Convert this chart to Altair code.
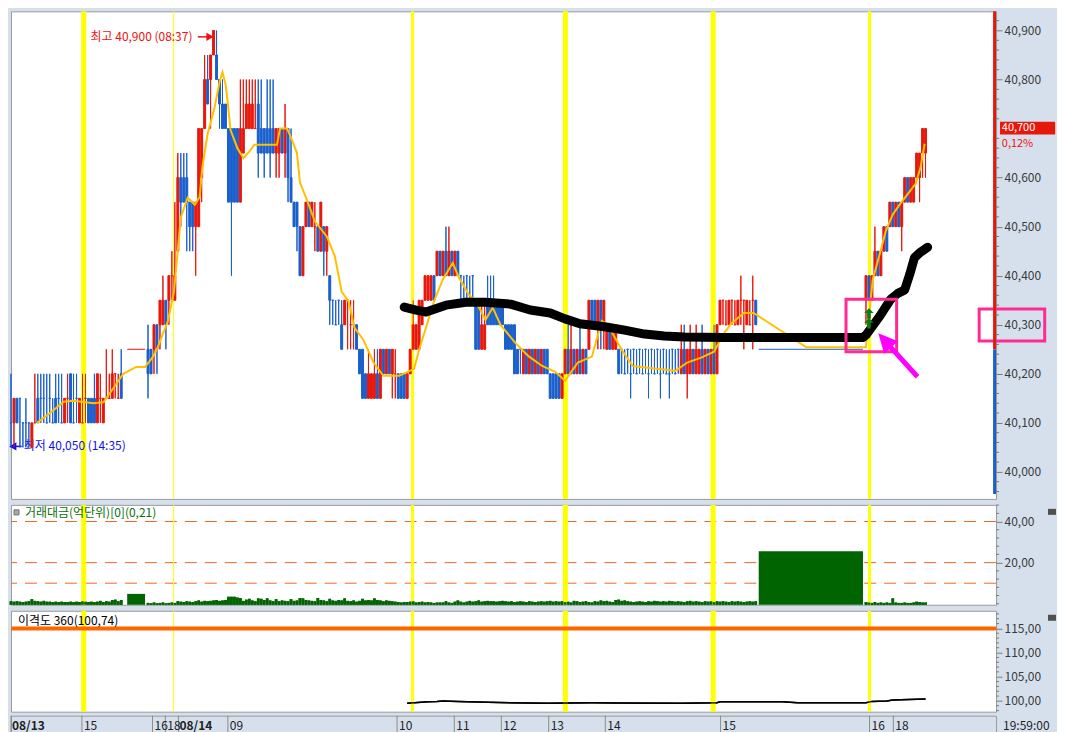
import altair as alt
import pandas as pd

FONT = "Noto Sans CJK KR"
BASE, STEP = 40000, 50          # price = BASE + STEP * tick
T_MAX = 330.67                  # bar slots across the plot
W = 986
H_MAIN, H_VOL, H_DISP, H_AX = 488, 100, 101, 19
UP, DN = "#e8170b", "#1a5fcc"
BG = "#d6e0ec"
VOL_UNIT = 2.0                  # volume entries below are read in half-억 steps

# ---------------- data ----------------
seg_starts = [0, 46, 287]
# (open, high, low, close) in ticks, volume (half-억 units)
seg_0813 = [
    (2,4,1,2,0.6), (2,3,1,3,0.5), (3,3,2,2,0.6), (3,3,1,3,0.5), (2,2,1,2,0.4),
    (2,3,1,2,0.5), (2,2,1,2,0.6), (1,2,1,2,1.1), (2,4,2,2,0.7), (3,4,2,2,0.6),
    (3,4,2,3,0.5), (3,4,2,3,0.7), (2,4,2,2,0.5), (3,4,2,3,0.5), (2,3,2,2,0.4),
    (3,4,2,2,0.5), (3,4,2,3,0.4), (2,4,2,2,0.5), (2,3,2,3,0.4), (3,4,2,3,0.4),
    (4,4,2,2,0.5), (2,4,2,2,0.4), (3,4,2,3,0.5), (2,3,2,3,0.4), (2,4,2,2,0.6),
    (3,4,2,3,0.5), (3,3,2,2,0.4), (3,3,2,2,0.5), (3,4,2,2,0.4), (2,4,2,4,0.5),
    (3,4,2,3,0.7), (2,3,2,3,0.4), (3,5,3,3,0.6), (3,4,3,3,0.5), (3,5,3,4,0.9),
    (4,4,3,4,1.0), (3,4,3,3,0.6), (4,5,3,3,0.9),
]
seg_0814 = [
    (5,6,3,4,0.2), (5,5,4,4,0.1), (5,6,4,6,0.3), (6,6,4,5,0.1), (6,7,5,7,0.2),
    (6,8,6,7,0.3), (7,7,5,6,0.1), (7,8,6,8,0.2), (8,9,7,8,0.3), (7,11,7,8,0.2),
    (9,13,9,12,0.6), (12,13,10,11,0.5), (12,13,11,11,0.4), (12,13,9,11,0.6), (11,11,9,10,0.5),
    (11,11,9,10,0.4), (10,11,8,11,0.6), (10,14,10,14,0.8), (12,14,11,14,0.5), (14,17,14,16,0.7),
    (16,17,15,15,0.6), (16,17,14,17,0.7), (17,18,17,18,0.8), (17,18,16,16,0.9), (16,16,14,15,0.7),
    (15,16,14,14,0.8), (15,15,14,14,0.9), (14,14,11,11,1.7), (14,14,8,11,1.7), (14,14,11,11,1.7),
    (14,14,11,11,1.5), (11,16,11,14,1.4), (13,16,13,14,0.7), (14,16,14,15,1.0), (14,16,14,15,1.2),
    (14,16,14,15,0.8), (14,16,14,14,0.6), (15,16,12,13,1.3), (14,16,13,13,1.2), (14,14,12,13,0.9),
    (14,16,13,13,1.3), (14,16,12,13,0.8), (14,16,13,13,0.6), (13,14,12,14,1.1), (13,14,12,14,0.6),
    (14,14,13,13,0.8), (13,15,12,14,0.7), (14,14,11,12,0.6), (12,14,11,11,1.1), (11,11,10,10,0.7),
    (11,11,9,10,0.8), (10,10,8,8,1.4), (8,10,8,10,1.3), (10,11,10,11,0.9), (11,11,10,10,0.8),
    (10,11,10,11,0.7), (10,11,9,10,0.6), (10,10,9,9,1.4), (9,11,9,11,0.9), (10,10,8,9,0.8),
    (9,10,8,10,0.6), (8,8,6,7,1.2), (7,7,6,7,0.8), (6,7,6,6,0.7), (7,7,6,7,0.9),
    (6,7,5,5,0.8), (6,7,6,7,1.3), (7,7,5,7,0.7), (6,7,5,6,0.6), (6,7,5,6,0.8),
    (6,6,5,5,0.5), (5,5,4,4,0.7), (5,5,3,3,1.2), (4,4,3,3,0.8), (3,5,3,4,0.9),
    (3,4,3,4,0.8), (3,5,3,4,1.3), (4,5,3,3,0.9), (3,5,3,5,0.8), (5,5,4,4,0.6),
    (4,5,4,5,0.8), (5,5,4,4,0.7), (4,5,3,5,0.6), (4,5,3,4,0.5), (4,4,3,3,0.4),
    (4,4,3,3,0.3), (4,4,3,3,0.4), (3,4,3,4,0.4), (4,5,4,5,0.5), (5,7,5,6,0.6),
    (5,6,5,6,0.3), (5,7,5,7,0.4), (6,7,6,7,0.5), (7,8,7,8,0.3), (7,8,7,8,0.4),
    (7,8,7,8,0.3), (8,8,7,7,0.2), (8,9,8,9,0.3), (9,9,8,8,0.3), (8,9,8,9,0.3),
    (9,10,8,8,0.6), (8,10,8,9,0.3), (9,9,8,8,0.2), (8,9,8,9,0.5), (9,9,8,8,0.8),
    (8,8,7,8,0.5), (7,8,7,7,0.3), (8,8,7,8,0.5), (7,8,7,7,0.7), (8,8,7,8,0.5),
    (7,7,5,5,0.6), (7,7,5,5,0.8), (5,7,5,6,0.5), (5,7,5,6,0.6), (7,8,6,6,0.7),
    (7,8,6,6,0.6), (7,8,6,6,0.6), (7,7,6,6,0.5), (7,7,6,6,0.6), (7,7,6,6,0.7),
    (6,6,5,5,0.6), (6,6,5,5,0.5), (6,6,5,5,0.6), (6,6,4,4,0.4), (5,5,4,4,0.5),
    (5,5,4,5,0.6), (4,5,4,5,0.5), (5,5,4,4,0.4), (4,5,4,5,0.6), (5,5,4,4,0.5),
    (4,5,4,5,0.4), (5,5,4,4,0.5), (4,5,4,5,0.6), (5,5,4,4,0.5), (5,5,4,4,0.6),
    (4,4,3,3,0.7), (4,4,3,3,0.5), (4,4,3,3,0.6), (4,4,3,3,0.5), (3,4,3,4,0.6),
    (4,5,4,5,0.4), (5,6,4,4,0.5), (4,6,4,5,0.3), (5,5,4,4,0.7), (4,5,4,5,0.6),
    (5,6,4,4,0.4), (4,5,4,5,0.5), (5,5,4,4,0.6), (5,7,5,7,0.4), (7,7,6,6,0.3),
    (7,7,6,6,0.6), (6,7,5,7,0.5), (7,7,5,6,0.8), (6,7,5,7,0.6), (5,6,5,6,0.7),
    (6,6,5,5,0.5), (5,6,5,6,0.4), (5,6,5,6,0.9), (5,5,4,4,1.0), (5,5,4,5,0.7),
    (4,5,4,4,0.8), (5,5,4,5,0.6), (4,5,3,4,0.5), (5,5,4,5,0.4), (4,5,4,4,0.5),
    (5,5,4,5,0.6), (4,5,4,4,0.5), (5,5,4,5,0.4), (4,5,3,4,0.6), (5,5,4,5,0.5),
    (4,5,4,4,0.7), (5,5,4,5,0.6), (4,5,3,4,0.5), (5,5,4,5,0.6), (4,5,4,4,0.5),
    (4,5,3,4,0.7), (5,5,4,5,0.6), (4,5,4,4,0.5), (5,5,4,5,0.6), (4,6,4,5,0.5),
    (5,6,4,4,0.4), (4,5,3,5,0.6), (4,6,4,5,0.7), (5,5,4,4,0.5), (4,6,4,5,0.6),
    (4,5,4,5,0.5), (5,6,4,4,0.4), (4,5,4,5,0.6), (5,5,4,4,0.5), (4,5,4,5,0.6),
    (5,6,4,4,0.4), (4,6,4,6,0.6), (6,7,6,7,0.5), (7,7,6,7,0.6), (6,7,6,6,0.5),
    (6,7,6,7,0.4), (7,7,6,7,0.6), (6,7,6,6,0.5), (6,7,6,7,0.6), (7,8,6,7,0.5),
    (7,7,5,7,0.4), (6,7,6,7,0.5), (6,7,6,6,0.6), (7,8,5,7,0.5), (7,7,6,6,0.6),
]
seg_late = [
    (7,8,6,8,0.4), (8,8,7,7,0.3), (7,8,7,8,0.2), (8,10,8,9,0.4), (9,9,8,8,0.2),
    (8,9,8,9,0.3), (9,10,9,10,0.2), (10,10,9,9,0.3), (10,11,10,11,0.2), (11,11,10,10,1.3),
    (10,11,10,11,0.3), (11,11,10,10,0.2), (10,11,9,11,0.2), (11,12,11,12,0.3), (12,12,11,11,0.2),
    (11,12,11,12,0.2), (11,12,11,12,0.3), (12,13,12,13,0.5), (12,13,11,13,0.4), (13,14,12,14,0.3),
    (13,14,12,14,0.3),
]
# single-price bars spanning long periods (volume in 억)
flat_t = [39, 251]
flat_len = [6, 35]
flat_tick = [5, 5]
flat_vol = [4.8, 25.5]
flat_dir = ["up", "dn"]

# short moving average (yellow)
ma_t = [8.7,12.7,17.7,21,27.7,31,34.3,37.7,42,45,47.7,49.3,52.7,54.7,57,59.3,61.7,63.3,64.3,66,
        68.3,70,71,72,72.7,73.7,76,78,80,81.7,89.3,90.3,92.7,94.3,96,97,99.3,102,106,108.7,
        111,113.3,115.3,118.3,121.7,125,130.3,131.7,135.3,137,139.3,142,145,148.3,150.3,153.7,156,159.3,161.7,164.3,
        169.3,173.7,178.3,182.7,186,190.3,195,198.3,200.3,205,208.7,217.7,223,227,231.7,236,239.3,241.7,246,249.3,
        267,287,287.7,289.3,291.7,293.7,296,298.3,303.7,305.3,306.7]
ma_p = [40100,40118,40143,40145,40140,40142,40170,40200,40214,40214,40235,40255,40308,40367,40519,40559,40545,40560,40624,40689,
        40742,40795,40815,40791,40756,40697,40660,40640,40653,40667,40667,40700,40700,40677,40650,40590,40555,40511,40480,40440,
        40367,40348,40294,40269,40223,40196,40196,40200,40210,40249,40294,40348,40393,40426,40397,40361,40348,40310,40335,40300,
        40263,40236,40216,40204,40186,40223,40235,40308,40300,40249,40216,40210,40206,40223,40233,40245,40282,40302,40324,40324,
        40254,40254,40300,40393,40446,40492,40525,40545,40588,40620,40669]
# 360 moving average (thick black)
ma360_t = [132,136,139.3,146,152.7,159.3,167.7,174.3,181,186,191,199.3,206,212.7,219.3,226,239.3,286,287,
           291.7,295.3,297.7,300,301.7,303.3,305.3,307.7]
ma360_p = [40336,40330,40326,40340,40346,40346,40342,40330,40324,40312,40302,40296,40289,40281,40277,40275,40274,40274,40279,
           40318,40352,40364,40371,40403,40437,40448,40458]
# disparity 360
disp_t = [133,140,143,145,150,160,180,195,203,225,237,238,259,264,287,289,294,296,307]
disp_v = [99.5,99.8,99.9,100.0,99.9,99.7,99.5,99.6,99.55,99.5,99.6,99.8,99.8,99.6,99.6,99.9,100.0,100.2,100.4]

sess_t = [24.4, 54.6, 134.8, 186.1, 235.7, 288.2]
sess_w = [5, 1, 3, 5, 5, 3]

xlab_t = [0, 23.8, 47.5, 51.8, 56.2, 72.8, 129.6, 148.8, 164.6, 180.5, 199.5, 238.2, 288.2, 296.2]
xlab_txt = ["08/13", "15", "16", "18", "08/14", "09", "10", "11", "12", "13", "14", "15", "16", "18"]
xlab_bold = [True, False, False, False, True, False, False, False, False, False, False, False, False, False]

price_ticks = [40000, 40100, 40200, 40300, 40400, 40500, 40600, 40800, 40900]
vol_dash = [40, 20, 10]
vol_ticks = [20, 40]
disp_ticks = [100, 105, 110, 115]

# ---------------- frames ----------------
rows = []
prev_d = "dn"
for start, seg in zip(seg_starts, [seg_0813, seg_0814, seg_late]):
    for i, (o, h, l, c, v) in enumerate(seg):
        d = "up" if c > o else ("dn" if c < o else prev_d)
        t = start + i
        rows.append(dict(t=t, x0=t - 0.33, x1=t + 0.33, vx0=t - 0.45, vx1=t + 0.45,
                         o=BASE + STEP * o, h=BASE + STEP * h, l=BASE + STEP * l, c=BASE + STEP * c,
                         v=v * VOL_UNIT, z=-0.5, d=d))
        prev_d = d
cdf = pd.DataFrame(rows)
fdf = pd.DataFrame(dict(t0=flat_t, t1=[a + b for a, b in zip(flat_t, flat_len)],
                        p=[BASE + STEP * k for k in flat_tick], v=flat_vol, z=-0.5, d=flat_dir))
sess_df = pd.DataFrame(dict(t=sess_t, w=sess_w))
one = pd.DataFrame({"a": [0]})

xs = alt.Scale(domain=[0, T_MAX], nice=False, zero=False)
dscale = alt.Scale(domain=["up", "dn"], range=[UP, DN])


def X(f):
    return alt.X(f, scale=xs, axis=None)


def right_axis(values, expr):
    return alt.Axis(orient="right", values=values, tickSize=6, tickColor="#7a7a7a", domain=False,
                    grid=False, labelColor="#3a3a3a", labelFontSize=12, labelFont=FONT, labelPadding=2,
                    labelExpr=expr)


def sess_layer():
    return alt.Chart(sess_df).mark_rule(color="#ffff00").encode(
        x=X("t:Q"), size=alt.Size("w:Q", scale=None, legend=None))


# ---------------- main panel ----------------
ys = alt.Scale(domain=[39945, 40939], nice=False, zero=False)
AX_MAIN = right_axis(price_ticks, "format(datum.value, ',.0f')")


def Ym(f):
    return alt.Y(f, scale=ys, title=None, axis=AX_MAIN)


ann = pd.DataFrame(dict(t=[26.7, 4.3], p=[40887, 40052],
                        txt=["최고 40,900 (08:37)", "최저 40,050 (14:35)"],
                        col=["#f01010", "#1010e8"]))
ann_lines = pd.DataFrame(dict(t=[62.7, 66.3, 0.8, 3.6], p=[40887, 40887, 40052, 40052],
                              g=["a", "a", "b", "b"], col=["#f01010", "#f01010", "#1010e8", "#1010e8"]))
heads = pd.DataFrame(dict(t=[66.8, 0.6], p=[40887, 40052], shp=["triangle-right", "triangle-left"],
                          col=["#f01010", "#1010e8"]))

layers = [
    alt.Chart(cdf).mark_rule(strokeWidth=1).encode(
        x=X("t:Q"), y=Ym("l:Q"), y2="h:Q",
        color=alt.Color("d:N", scale=dscale, legend=None)),
    sess_layer(),
    alt.Chart(ann).mark_text(align="left", baseline="middle", font=FONT, fontSize=12).encode(
        x=X("t:Q"), y=Ym("p:Q"), text="txt:N", color=alt.Color("col:N", scale=None)),
    alt.Chart(ann_lines).mark_line(strokeWidth=1.5).encode(
        x=X("t:Q"), y=Ym("p:Q"), detail="g:N", color=alt.Color("col:N", scale=None)),
    alt.Chart(heads).mark_point(filled=True, size=70, opacity=1).encode(
        x=X("t:Q"), y=Ym("p:Q"), shape=alt.Shape("shp:N", scale=None),
        color=alt.Color("col:N", scale=None)),
    alt.Chart(fdf).mark_rule(strokeWidth=1).encode(
        x=X("t0:Q"), x2="t1:Q", y=Ym("p:Q"), color=alt.Color("d:N", scale=dscale, legend=None)),
    alt.Chart(cdf).mark_rule(strokeWidth=1).encode(
        x=X("t:Q"), y=Ym("l:Q"), y2="h:Q",
        color=alt.Color("d:N", scale=dscale, legend=None)),
    alt.Chart(cdf).mark_rect(strokeWidth=1).encode(
        x=X("x0:Q"), x2="x1:Q", y=Ym("o:Q"), y2="c:Q",
        color=alt.Color("d:N", scale=dscale, legend=None),
        stroke=alt.Stroke("d:N", scale=dscale, legend=None)),
    alt.Chart(pd.DataFrame(dict(t=ma_t, p=ma_p))).mark_line(color="#ffc000", strokeWidth=2).encode(
        x=X("t:Q"), y=Ym("p:Q")),
    alt.Chart(pd.DataFrame(dict(t=ma360_t, p=ma360_p))).mark_line(
        color="black", strokeWidth=9, strokeCap="round", strokeJoin="round").encode(
        x=X("t:Q"), y=Ym("p:Q")),
    alt.Chart(pd.DataFrame(dict(t=[288, 288], p=[40323, 40303]))).mark_point(
        shape="M0,-1L0.9,-0.1L0.35,-0.1L0.35,1L-0.35,1L-0.35,-0.1L-0.9,-0.1Z",
        filled=True, size=110, color="#0a7d12", opacity=1).encode(x=X("t:Q"), y=Ym("p:Q")),
    alt.Chart(pd.DataFrame(dict(t0=[280.3, 325], t1=[297.3, 347], p0=[40245, 40267], p1=[40352, 40332]))).mark_rect(
        filled=False, color="#ff2a93", strokeWidth=3).encode(
        x=X("t0:Q"), x2="t1:Q", y=Ym("p0:Q"), y2="p1:Q"),
    alt.Chart(pd.DataFrame(dict(t=[304.3, 293.8], p=[40194, 40264]))).mark_line(
        color="#ff00ff", strokeWidth=5).encode(x=X("t:Q"), y=Ym("p:Q")),
    alt.Chart(pd.DataFrame(dict(t=[293.6], p=[40266]))).mark_point(
        shape="M0,-1L0.85,0.75L-0.85,0.75Z", filled=True, size=480, color="#ff00ff",
        opacity=1, angle=318).encode(x=X("t:Q"), y=Ym("p:Q")),
    alt.Chart(pd.DataFrame(dict(t0=[329.67, 329.67], t1=[330.67, 330.67], p0=[40250, 39955],
                                p1=[40939, 40250], col=["#e8170b", "#1a5fcc"]))).mark_rect().encode(
        x=X("t0:Q"), x2="t1:Q", y=Ym("p0:Q"), y2="p1:Q", color=alt.Color("col:N", scale=None)),
    alt.Chart(pd.DataFrame(dict(t0=[332], t1=[350.5], p0=[40688], p1=[40714]))).mark_rect(color="#e8170b").encode(
        x=X("t0:Q"), x2="t1:Q", y=Ym("p0:Q"), y2="p1:Q"),
    alt.Chart(pd.DataFrame(dict(t=[332.6], p=[40701], txt=["40,700"]))).mark_text(
        align="left", baseline="middle", font=FONT, fontSize=11, color="white").encode(
        x=X("t:Q"), y=Ym("p:Q"), text="txt:N"),
    alt.Chart(pd.DataFrame(dict(t=[332.6], p=[40669], txt=["0,12%"]))).mark_text(
        align="left", baseline="middle", font=FONT, fontSize=11, color="#f01010").encode(
        x=X("t:Q"), y=Ym("p:Q"), text="txt:N"),
    alt.Chart(pd.DataFrame(dict(p=[p for p in range(39960, 40940, 20) if p % 100 != 0]))).mark_rule(
        color="#7a7a7a").encode(x=alt.value(W), x2=alt.value(W + 3), y=Ym("p:Q")),
]
main = alt.layer(*layers).properties(width=W, height=H_MAIN)

# ---------------- volume panel ----------------
yv = alt.Scale(domain=[-0.5, 48.1], nice=False, zero=False)
vexpr = "replace(format(datum.value, '.2f'), '.', ',')"
AX_VOL = right_axis(vol_ticks, vexpr)


def Yv(f):
    return alt.Y(f, scale=yv, title=None, axis=AX_VOL)


vol = alt.layer(
    alt.Chart(cdf).mark_rect(color="#006400").encode(
        x=X("vx0:Q"), x2="vx1:Q", y=Yv("v:Q"), y2="z:Q"),
    alt.Chart(pd.DataFrame(dict(v=vol_dash))).mark_rule(strokeDash=[12, 8], color="#f26522", strokeWidth=1).encode(
        y=Yv("v:Q")),
    sess_layer(),
    alt.Chart(cdf).mark_rect(color="#006400").encode(
        x=X("vx0:Q"), x2="vx1:Q", y=Yv("v:Q"), y2="z:Q"),
    alt.Chart(fdf).mark_rect(color="#006400").encode(
        x=X("t0:Q"), x2="t1:Q", y=Yv("v:Q"), y2="z:Q"),
    alt.Chart(pd.DataFrame(dict(v=[0, 4, 8, 12, 16, 24, 28, 32, 36, 44, 48]))).mark_rule(color="#7a7a7a").encode(
        x=alt.value(W), x2=alt.value(W + 3), y=Yv("v:Q")),
    alt.Chart(one).mark_rect(color="#a8a8a8", stroke="#707070", strokeWidth=1).encode(
        x=alt.value(3), x2=alt.value(8), y=alt.value(5), y2=alt.value(10)),
    alt.Chart(one).mark_text(align="left", baseline="middle", font=FONT, fontSize=12, color="#0a700a").encode(
        x=alt.value(14), y=alt.value(8), text=alt.value("거래대금(억단위)[0](0,21)")),
    alt.Chart(one).mark_rect(color="#505050").encode(
        x=alt.value(W + 52), x2=alt.value(W + 60), y=alt.value(4), y2=alt.value(10)),
).properties(width=W, height=H_VOL)

# ---------------- disparity panel ----------------
yd = alt.Scale(domain=[97.77, 118.65], nice=False, zero=False)
AX_DISP = right_axis(disp_ticks, vexpr)


def Yd(f):
    return alt.Y(f, scale=yd, title=None, axis=AX_DISP)


disp = alt.layer(
    alt.Chart(pd.DataFrame(dict(t=disp_t, v=disp_v))).mark_line(color="black", strokeWidth=1.5).encode(
        x=X("t:Q"), y=Yd("v:Q")),
    sess_layer(),
    alt.Chart(pd.DataFrame(dict(v=[115]))).mark_rule(color="#ff6600", strokeWidth=4).encode(y=Yd("v:Q")),
    alt.Chart(pd.DataFrame(dict(t=disp_t, v=disp_v))).mark_line(color="black", strokeWidth=1.5).encode(
        x=X("t:Q"), y=Yd("v:Q")),
    alt.Chart(pd.DataFrame(dict(v=[v for v in range(98, 119) if v % 5 != 0]))).mark_rule(color="#7a7a7a").encode(
        x=alt.value(W), x2=alt.value(W + 3), y=Yd("v:Q")),
    alt.Chart(one).mark_text(align="left", baseline="middle", font=FONT, fontSize=12, color="black").encode(
        x=alt.value(7), y=alt.value(10), text=alt.value("이격도 360(100,74)")),
    alt.Chart(one).mark_rect(color="#505050").encode(
        x=alt.value(W + 52), x2=alt.value(W + 60), y=alt.value(4), y2=alt.value(10)),
).properties(width=W, height=H_DISP)

# ---------------- time strip ----------------
xl = pd.DataFrame(dict(t=xlab_t, txt=xlab_txt, bold=xlab_bold))
strip = alt.layer(
    alt.Chart(xl).mark_rule(color="#8c8c8c").encode(x=X("t:Q")),
    alt.Chart(xl[~xl.bold]).mark_text(align="left", baseline="middle", dx=2, font=FONT, fontSize=12,
                                      color="#222222").encode(x=X("t:Q"), y=alt.value(10), text="txt:N"),
    alt.Chart(xl[xl.bold]).mark_text(align="left", baseline="middle", dx=1, font=FONT, fontSize=12,
                                     fontWeight="bold", color="#222222").encode(
        x=X("t:Q"), y=alt.value(10), text="txt:N"),
    alt.Chart(one).mark_text(align="left", baseline="middle", font=FONT, fontSize=12, color="#222222").encode(
        x=alt.value(W + 7), y=alt.value(10), text=alt.value("19:59:00")),
).properties(width=W, height=H_AX, view=alt.ViewBackground(fill=BG, stroke="#9a9a9a"))

chart = alt.vconcat(main, vol, disp, strip, spacing=0).properties(
    background=BG, padding={"left": 0, "right": 0, "top": 0, "bottom": 0}
).configure_view(stroke="#9a9a9a", fill="white").configure_axis(labelFont=FONT)

chart.save("out.html", embed_options={"renderer": "svg", "actions": False})
